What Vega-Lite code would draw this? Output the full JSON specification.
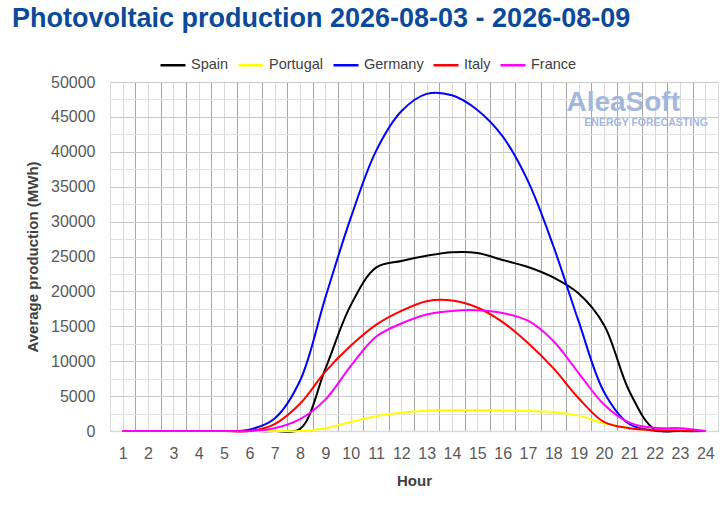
{
  "$schema": "https://vega.github.io/schema/vega-lite/v6.json",
  "width": 608,
  "height": 349,
  "autosize": {"type": "none"},
  "padding": {"left": 110, "top": 82, "right": 10, "bottom": 78},
  "background": "white",
  "title": {
    "text": "Photovoltaic production 2026-08-03 - 2026-08-09",
    "anchor": "start",
    "frame": "group",
    "dx": -98,
    "offset": 18,
    "font": "Liberation Sans",
    "fontSize": 27,
    "fontWeight": "bold",
    "color": "#0b4a9a"
  },
  "data": {
    "values": [
      {"hour": 1, "country": "Spain", "value": 0},
      {"hour": 2, "country": "Spain", "value": 0},
      {"hour": 3, "country": "Spain", "value": 0},
      {"hour": 4, "country": "Spain", "value": 0},
      {"hour": 5, "country": "Spain", "value": 0},
      {"hour": 6, "country": "Spain", "value": 0},
      {"hour": 7, "country": "Spain", "value": 0},
      {"hour": 8, "country": "Spain", "value": 300},
      {"hour": 9, "country": "Spain", "value": 8900},
      {"hour": 10, "country": "Spain", "value": 18000},
      {"hour": 11, "country": "Spain", "value": 23400},
      {"hour": 12, "country": "Spain", "value": 24350},
      {"hour": 13, "country": "Spain", "value": 25100},
      {"hour": 14, "country": "Spain", "value": 25600},
      {"hour": 15, "country": "Spain", "value": 25500},
      {"hour": 16, "country": "Spain", "value": 24500},
      {"hour": 17, "country": "Spain", "value": 23500},
      {"hour": 18, "country": "Spain", "value": 22000},
      {"hour": 19, "country": "Spain", "value": 19700},
      {"hour": 20, "country": "Spain", "value": 15200},
      {"hour": 21, "country": "Spain", "value": 5700},
      {"hour": 22, "country": "Spain", "value": 250},
      {"hour": 23, "country": "Spain", "value": 0},
      {"hour": 24, "country": "Spain", "value": 0},
      {"hour": 1, "country": "Portugal", "value": 0},
      {"hour": 2, "country": "Portugal", "value": 0},
      {"hour": 3, "country": "Portugal", "value": 0},
      {"hour": 4, "country": "Portugal", "value": 0},
      {"hour": 5, "country": "Portugal", "value": 0},
      {"hour": 6, "country": "Portugal", "value": 0},
      {"hour": 7, "country": "Portugal", "value": 0},
      {"hour": 8, "country": "Portugal", "value": 0},
      {"hour": 9, "country": "Portugal", "value": 400},
      {"hour": 10, "country": "Portugal", "value": 1300},
      {"hour": 11, "country": "Portugal", "value": 2100},
      {"hour": 12, "country": "Portugal", "value": 2600},
      {"hour": 13, "country": "Portugal", "value": 2900},
      {"hour": 14, "country": "Portugal", "value": 3000},
      {"hour": 15, "country": "Portugal", "value": 3000},
      {"hour": 16, "country": "Portugal", "value": 2950},
      {"hour": 17, "country": "Portugal", "value": 2850},
      {"hour": 18, "country": "Portugal", "value": 2700},
      {"hour": 19, "country": "Portugal", "value": 2200},
      {"hour": 20, "country": "Portugal", "value": 1100},
      {"hour": 21, "country": "Portugal", "value": 400},
      {"hour": 22, "country": "Portugal", "value": 150},
      {"hour": 23, "country": "Portugal", "value": 50},
      {"hour": 24, "country": "Portugal", "value": 0},
      {"hour": 1, "country": "Germany", "value": 0},
      {"hour": 2, "country": "Germany", "value": 0},
      {"hour": 3, "country": "Germany", "value": 0},
      {"hour": 4, "country": "Germany", "value": 0},
      {"hour": 5, "country": "Germany", "value": 0},
      {"hour": 6, "country": "Germany", "value": 200},
      {"hour": 7, "country": "Germany", "value": 1800},
      {"hour": 8, "country": "Germany", "value": 7200},
      {"hour": 9, "country": "Germany", "value": 19100},
      {"hour": 10, "country": "Germany", "value": 30500},
      {"hour": 11, "country": "Germany", "value": 40100},
      {"hour": 12, "country": "Germany", "value": 45800},
      {"hour": 13, "country": "Germany", "value": 48300},
      {"hour": 14, "country": "Germany", "value": 48100},
      {"hour": 15, "country": "Germany", "value": 46000},
      {"hour": 16, "country": "Germany", "value": 42200},
      {"hour": 17, "country": "Germany", "value": 35800},
      {"hour": 18, "country": "Germany", "value": 26500},
      {"hour": 19, "country": "Germany", "value": 15700},
      {"hour": 20, "country": "Germany", "value": 5600},
      {"hour": 21, "country": "Germany", "value": 1000},
      {"hour": 22, "country": "Germany", "value": 50},
      {"hour": 23, "country": "Germany", "value": 0},
      {"hour": 24, "country": "Germany", "value": 0},
      {"hour": 1, "country": "Italy", "value": 0},
      {"hour": 2, "country": "Italy", "value": 0},
      {"hour": 3, "country": "Italy", "value": 0},
      {"hour": 4, "country": "Italy", "value": 0},
      {"hour": 5, "country": "Italy", "value": 0},
      {"hour": 6, "country": "Italy", "value": 0},
      {"hour": 7, "country": "Italy", "value": 1000},
      {"hour": 8, "country": "Italy", "value": 3900},
      {"hour": 9, "country": "Italy", "value": 8500},
      {"hour": 10, "country": "Italy", "value": 12200},
      {"hour": 11, "country": "Italy", "value": 15200},
      {"hour": 12, "country": "Italy", "value": 17200},
      {"hour": 13, "country": "Italy", "value": 18600},
      {"hour": 14, "country": "Italy", "value": 18700},
      {"hour": 15, "country": "Italy", "value": 17700},
      {"hour": 16, "country": "Italy", "value": 15600},
      {"hour": 17, "country": "Italy", "value": 12600},
      {"hour": 18, "country": "Italy", "value": 9000},
      {"hour": 19, "country": "Italy", "value": 4700},
      {"hour": 20, "country": "Italy", "value": 1300},
      {"hour": 21, "country": "Italy", "value": 400},
      {"hour": 22, "country": "Italy", "value": 150},
      {"hour": 23, "country": "Italy", "value": 50},
      {"hour": 24, "country": "Italy", "value": 0},
      {"hour": 1, "country": "France", "value": 0},
      {"hour": 2, "country": "France", "value": 0},
      {"hour": 3, "country": "France", "value": 0},
      {"hour": 4, "country": "France", "value": 0},
      {"hour": 5, "country": "France", "value": 0},
      {"hour": 6, "country": "France", "value": 0},
      {"hour": 7, "country": "France", "value": 400},
      {"hour": 8, "country": "France", "value": 1700},
      {"hour": 9, "country": "France", "value": 4500},
      {"hour": 10, "country": "France", "value": 9300},
      {"hour": 11, "country": "France", "value": 13500},
      {"hour": 12, "country": "France", "value": 15400},
      {"hour": 13, "country": "France", "value": 16700},
      {"hour": 14, "country": "France", "value": 17200},
      {"hour": 15, "country": "France", "value": 17300},
      {"hour": 16, "country": "France", "value": 16900},
      {"hour": 17, "country": "France", "value": 15800},
      {"hour": 18, "country": "France", "value": 12900},
      {"hour": 19, "country": "France", "value": 8300},
      {"hour": 20, "country": "France", "value": 3800},
      {"hour": 21, "country": "France", "value": 1200},
      {"hour": 22, "country": "France", "value": 450},
      {"hour": 23, "country": "France", "value": 400},
      {"hour": 24, "country": "France", "value": 0}
    ]
  },
  "layer": [
    {
      "mark": {"type": "line", "interpolate": "catmull-rom", "strokeWidth": 2},
      "encoding": {
        "x": {
          "field": "hour",
          "type": "quantitative",
          "scale": {"domain": [0.5, 24.5], "nice": false, "zero": false},
          "axis": {
            "title": "Hour",
            "values": [0.5, 1, 1.5, 2, 2.5, 3, 3.5, 4, 4.5, 5, 5.5, 6, 6.5, 7, 7.5, 8, 8.5, 9, 9.5, 10, 10.5, 11, 11.5, 12, 12.5, 13, 13.5, 14, 14.5, 15, 15.5, 16, 16.5, 17, 17.5, 18, 18.5, 19, 19.5, 20, 20.5, 21, 21.5, 22, 22.5, 23, 23.5, 24, 24.5],
            "tickCount": 200,
            "labelExpr": "datum.value % 1 === 0 ? datum.value + '' : ''",
            "grid": true,
            "ticks": false,
            "labelPadding": 14,
            "labelFont": "Liberation Sans",
            "labelFontSize": 16,
            "labelColor": "#595959",
            "labelFlush": false,
            "labelOverlap": false,
            "labelBound": false,
            "titleFont": "Liberation Sans",
            "titleFontSize": 15,
            "titleFontWeight": "bold",
            "titleColor": "#404040",
            "titlePadding": 12,
            "domainColor": "#d9d9d9",
            "domainWidth": 1.5,
            "gridColor": {"condition": {"test": "datum.value % 1 === 0.5 && datum.value > 0.5 && datum.value < 24.5", "value": "#a6a6a6"}, "value": "#d9d9d9"},
            "gridWidth": 1,
            "gridOpacity": 1
          }
        },
        "y": {
          "field": "value",
          "type": "quantitative",
          "scale": {"domain": [0, 50000], "nice": false},
          "axis": {
            "title": "Average production (MWh)",
            "values": [0, 2500, 5000, 7500, 10000, 12500, 15000, 17500, 20000, 22500, 25000, 27500, 30000, 32500, 35000, 37500, 40000, 42500, 45000, 47500, 50000],
            "tickCount": 200,
            "labelExpr": "datum.value % 5000 === 0 ? datum.value + '' : ''",
            "grid": true,
            "ticks": false,
            "domain": false,
            "labelPadding": 15,
            "labelFont": "Liberation Sans",
            "labelFontSize": 16,
            "labelColor": "#595959",
            "labelOverlap": false,
            "labelBound": false,
            "titleFont": "Liberation Sans",
            "titleFontSize": 15,
            "titleFontWeight": "bold",
            "titleColor": "#404040",
            "titlePadding": 10,
            "gridColor": {"condition": {"test": "datum.value % 5000 === 0", "value": "#c8c8c8"}, "value": "#e0e0e0"},
            "gridWidth": 1,
            "gridOpacity": 1
          }
        },
        "color": {
          "field": "country",
          "type": "nominal",
          "scale": {
            "domain": ["Spain", "Portugal", "Germany", "Italy", "France"],
            "range": ["#000000", "#ffff00", "#0000ff", "#ff0000", "#ff00ff"]
          },
          "legend": {
            "title": null,
            "orient": "none",
            "direction": "horizontal",
            "legendX": 49,
            "legendY": -31,
            "symbolType": "stroke",
            "symbolSize": 625,
            "symbolStrokeWidth": 2.5,
            "labelOffset": 4,
            "columnPadding": 4,
            "labelFont": "Liberation Sans",
            "labelFontSize": 14.5,
            "labelColor": "#404040"
          }
        },
        "order": {"field": "hour", "type": "quantitative"}
      }
    },
    {
      "data": {"values": [{}]},
      "mark": {"type": "text", "align": "right", "baseline": "middle", "font": "Liberation Sans", "fontSize": 28, "fontWeight": "bold", "color": "#a3b7dc"},
      "encoding": {
        "x": {"datum": 23, "type": "quantitative"},
        "y": {"datum": 47000, "type": "quantitative"},
        "text": {"value": "AleaSoft"}
      }
    },
    {
      "data": {"values": [{}]},
      "mark": {"type": "text", "align": "right", "baseline": "middle", "font": "Liberation Sans", "fontSize": 10.5, "fontWeight": "bold", "color": "#a3b7dc"},
      "encoding": {
        "x": {"datum": 24.1, "type": "quantitative"},
        "y": {"datum": 44100, "type": "quantitative"},
        "text": {"value": "ENERGY FORECASTING"}
      }
    }
  ],
  "config": {
    "view": {"stroke": null}
  }
}
